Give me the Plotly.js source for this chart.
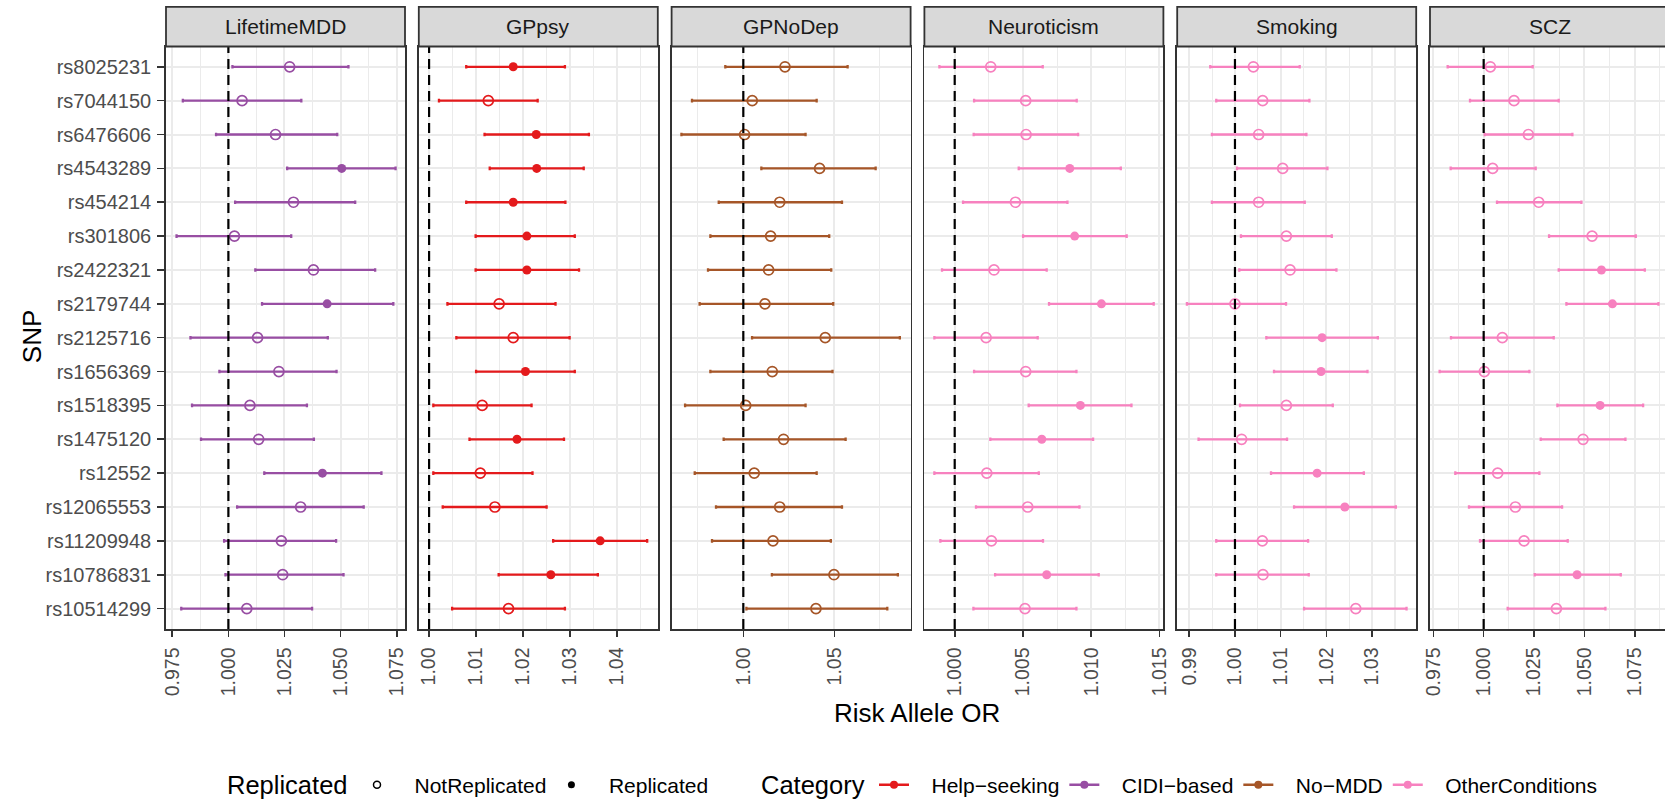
<!DOCTYPE html>
<html><head><meta charset="utf-8">
<script src="https://cdn.plot.ly/plotly-3.0.1.min.js"></script>
<style>html,body{margin:0;padding:0;overflow:hidden;background:#fff}#chart{width:1672px;height:806px}</style>
</head><body><div id="chart"></div>
<script>
// ---------------- data ----------------
const snps = ["rs8025231","rs7044150","rs6476606","rs4543289","rs454214","rs301806","rs2422321","rs2179744","rs2125716","rs1656369","rs1518395","rs1475120","rs12552","rs12065553","rs11209948","rs10786831","rs10514299"];
const panels = ["LifetimeMDD","GPpsy","GPNoDep","Neuroticism","Smoking","SCZ"];
const categories = ["Help\u2212seeking","CIDI\u2212based","No\u2212MDD","OtherConditions"];
const panelCategory = ["CIDI\u2212based","Help\u2212seeking","No\u2212MDD","OtherConditions","OtherConditions","OtherConditions"];
const replicatedLevels = ["NotReplicated","Replicated"];

const mdd_or = [1.0273,1.0061,1.0210,1.0505,1.0290,1.0027,1.0379,1.0440,1.0130,1.0225,1.0096,1.0135,1.0419,1.0322,1.0236,1.0242,1.0082];
const mdd_lo = [1.0018,0.9797,0.9945,1.0262,1.0030,0.9769,1.0120,1.0150,0.9831,0.9960,0.9838,0.9878,1.0160,1.0039,0.9981,0.9987,0.9790];
const mdd_hi = [1.0535,1.0325,1.0485,1.0745,1.0565,1.0280,1.0654,1.0735,1.0443,1.0482,1.0350,1.0381,1.0682,1.0603,1.0480,1.0513,1.0373];
const mdd_rep = [0,0,0,1,0,0,0,1,0,0,0,0,1,0,0,0,0];

const gp_or = [1.0179,1.0126,1.0228,1.0229,1.0179,1.0208,1.0208,1.0149,1.0179,1.0205,1.0113,1.0187,1.0109,1.0140,1.0364,1.0259,1.0169];
const gp_lo = [1.0079,1.0021,1.0118,1.0129,1.0079,1.0099,1.0099,1.0039,1.0058,1.0100,1.0009,1.0086,1.0009,1.0029,1.0264,1.0148,1.0049];
const gp_hi = [1.0289,1.0231,1.0340,1.0329,1.0290,1.0310,1.0319,1.0269,1.0299,1.0310,1.0218,1.0287,1.0220,1.0250,1.0464,1.0359,1.0289];
const gp_rep = [1,0,1,1,1,1,1,0,0,1,0,1,0,0,1,1,0];

const nodep_or = [1.0229,1.0049,1.0007,1.0419,1.0200,1.0150,1.0139,1.0119,1.0450,1.0159,1.0013,1.0221,1.0060,1.0200,1.0163,1.0498,1.0399];
const nodep_lo = [0.9901,0.9718,0.9660,1.0099,0.9865,0.9819,0.9806,0.9760,1.0048,0.9819,0.9680,0.9892,0.9733,0.9850,0.9828,1.0157,1.0017];
const nodep_hi = [1.0573,1.0403,1.0342,1.0727,1.0542,1.0472,1.0483,1.0494,1.0860,1.0490,1.0342,1.0562,1.0403,1.0542,1.0481,1.0849,1.0791];
const nodep_rep = [0,0,0,0,0,0,0,0,0,0,0,0,0,0,0,0,0];

const neuro_or = [1.00264,1.00520,1.00523,1.00843,1.00445,1.00879,1.00288,1.01075,1.00230,1.00520,1.00921,1.00638,1.00235,1.00535,1.00269,1.00674,1.00515];
const neuro_lo = [0.99888,1.00142,1.00139,1.00469,1.00061,1.00501,0.99907,1.00691,0.99851,1.00142,1.00542,1.00261,0.99851,1.00156,0.99895,1.00296,1.00137];
const neuro_hi = [1.00645,1.00894,1.00904,1.01217,1.00826,1.01260,1.00674,1.01458,1.00608,1.00892,1.01295,1.01014,1.00616,1.00914,1.00647,1.01055,1.00892];
const neuro_rep = [0,0,0,1,0,1,0,1,0,0,1,1,0,0,0,1,0];

const smk_or = [1.00402,1.00606,1.00518,1.01044,1.00518,1.01124,1.01205,1.00000,1.01905,1.01883,1.01124,1.00146,1.01796,1.02402,1.00599,1.00613,1.02642];
const smk_lo = [0.99460,0.99591,0.99496,1.00044,0.99496,1.00131,1.00095,0.98949,1.00686,1.00854,1.00110,0.99204,1.00788,1.01292,0.99591,0.99591,1.01511];
const smk_hi = [1.01416,1.01628,1.01562,1.02022,1.01526,1.02117,1.02219,1.01117,1.03124,1.02898,1.02139,1.01139,1.02818,1.03518,1.01599,1.01613,1.03752];
const smk_rep = [0,0,0,0,0,0,0,0,1,1,0,0,1,1,0,0,0];

const scz_or = [1.00331,1.01507,1.02219,1.00447,1.02733,1.05382,1.05846,1.06392,1.00927,1.00033,1.05780,1.04935,1.00696,1.01573,1.02004,1.04637,1.03610];
const scz_lo = [0.98212,0.99321,1.00050,0.98361,1.00662,1.03246,1.03726,1.04107,0.98377,0.97814,1.03660,1.02832,0.98592,0.99271,0.99818,1.02534,1.01192];
const scz_hi = [1.02434,1.03726,1.04405,1.02583,1.04852,1.07551,1.07999,1.08677,1.03478,1.02269,1.07916,1.07038,1.02766,1.03892,1.04173,1.06806,1.06044];
const scz_rep = [0,0,0,0,0,0,1,1,0,0,1,0,0,0,0,1,0];

// ---------------- styling / layout config ----------------
const W = 1672, H = 806;
const FONT = "Liberation Sans, Arial, Helvetica, sans-serif";
const catColors = {"Help\u2212seeking":"#E41A1C","CIDI\u2212based":"#984EA3","No\u2212MDD":"#A65628","OtherConditions":"#F781BF"};
const panelData = [
  [mdd_or, mdd_lo, mdd_hi, mdd_rep],
  [gp_or, gp_lo, gp_hi, gp_rep],
  [nodep_or, nodep_lo, nodep_hi, nodep_rep],
  [neuro_or, neuro_lo, neuro_hi, neuro_rep],
  [smk_or, smk_lo, smk_hi, smk_rep],
  [scz_or, scz_lo, scz_hi, scz_rep]
];
const axisCfg = [
  {range:[0.9722,1.0787], dtick:0.025, tick0:1, fmt:".3f"},
  {range:[0.99781,1.04866], dtick:0.01, tick0:1, fmt:".2f"},
  {range:[0.9606,1.0919], dtick:0.05, tick0:1, fmt:".2f"},
  {range:[0.99778,1.01529], dtick:0.005, tick0:1, fmt:".3f"},
  {range:[0.98737,1.03963], dtick:0.01, tick0:1, fmt:".2f"},
  {range:[0.97336,1.0920], dtick:0.025, tick0:1, fmt:".3f"}
];
const panelLeft = 166, panelW = 239, panelStep = 252.8;
const plotTop = 47, plotBottom = 636, stripTop = 7;
const yDom = [1 - plotBottom/H, 1 - plotTop/H];
const border = "#333333";
const legendY = 1 - 794/H;
const keyPad = "\u00a0\u00a0\u00a0";   // spacing between legend key and its label

const traces = [];
const layout = {
  width: W, height: H,
  margin: {l:0, r:0, t:0, b:0},
  paper_bgcolor: "#fff", plot_bgcolor: "#fff",
  font: {family: FONT, color: "#000"},
  showlegend: true,
  shapes: [], annotations: [],
  legend: {
    x: 357/W, xanchor: "left", y: legendY, yanchor: "middle",
    orientation: "h", bgcolor: "rgba(0,0,0,0)", borderwidth: 0,
    font: {size: 21, color: "#000", family: FONT}, itemwidth: 30, traceorder: "normal"
  },
  legend2: {
    x: 874/W, xanchor: "left", y: legendY, yanchor: "middle",
    orientation: "h", bgcolor: "rgba(0,0,0,0)", borderwidth: 0,
    font: {size: 21, color: "#000", family: FONT}, itemwidth: 30, traceorder: "normal"
  }
};

const ySorted = snps.slice().reverse();

panels.forEach((p, i) => {
  const sfx = i === 0 ? "" : String(i + 1);
  const [orv, lo, hi, rep] = panelData[i];
  const color = catColors[panelCategory[i]];
  const x0 = panelLeft + i*panelStep, x1 = x0 + panelW;
  const cfg = axisCfg[i];

  [0, 1].forEach(r => {
    const idx = snps.map((s, k) => k).filter(k => rep[k] === r);
    traces.push({
      type: "scatter", mode: "markers",
      x: idx.map(k => orv[k]), y: idx.map(k => snps[k]),
      xaxis: "x" + sfx, yaxis: "y" + sfx,
      showlegend: false, hoverinfo: "x+y",
      error_x: {type: "data", symmetric: false,
        array: idx.map(k => hi[k] - orv[k]), arrayminus: idx.map(k => orv[k] - lo[k]),
        color: color, thickness: 2.3, width: 1.8},
      marker: r === 1
        ? {symbol: "circle", size: 9, color: color, line: {width: 0}}
        : {symbol: "circle-open", size: 10, color: color, line: {width: 1.7, color: color}}
    });
  });

  layout["xaxis" + sfx] = {
    domain: [x0/W, x1/W], range: cfg.range, anchor: "y" + sfx,
    tickmode: "linear", tick0: cfg.tick0, dtick: cfg.dtick, tickformat: cfg.fmt,
    tickangle: -90, ticks: "outside", ticklen: 6, tickwidth: 1.6, tickcolor: border,
    ticklabelstandoff: 3,
    tickfont: {size: 19.5, color: "#4D4D4D", family: FONT},
    showgrid: true, gridcolor: "#EBEBEB", gridwidth: 2,
    minor: {dtick: cfg.dtick/2, tick0: cfg.tick0, showgrid: true, gridcolor: "#EBEBEB", gridwidth: 1.1, ticks: ""},
    showline: true, mirror: true, linecolor: border, linewidth: 1.8,
    zeroline: false, fixedrange: true
  };
  layout["yaxis" + sfx] = {
    domain: yDom, anchor: "x" + sfx, type: "category",
    categoryorder: "array", categoryarray: ySorted, range: [-0.6, snps.length - 0.4],
    ticks: i === 0 ? "outside" : "", ticklen: 7, tickwidth: 1.6, tickcolor: border,
    showticklabels: i === 0, ticklabelstandoff: 2,
    tickfont: {size: 20, color: "#4D4D4D", family: FONT},
    showgrid: true, gridcolor: "#EBEBEB", gridwidth: 2,
    showline: true, mirror: true, linecolor: border, linewidth: 1.8,
    zeroline: false, fixedrange: true
  };
  if (i > 0) layout["yaxis" + sfx].matches = "y";

  // reference line at OR = 1
  layout.shapes.push({type: "line", xref: "x" + sfx, yref: "y" + sfx + " domain",
    x0: 1, x1: 1, y0: 0, y1: 1, layer: "above",
    line: {color: "#000", width: 2.2, dash: "10px,6px"}});
  // facet strip
  layout.shapes.push({type: "rect", xref: "paper", yref: "paper",
    x0: x0/W, x1: x1/W, y0: 1 - plotTop/H, y1: 1 - stripTop/H,
    fillcolor: "#D9D9D9", line: {color: border, width: 1.8}, layer: "above"});
  layout.annotations.push({xref: "paper", yref: "paper", x: (x0 + x1)/2/W, y: 1 - (plotTop + stripTop)/2/H,
    text: p, showarrow: false, xanchor: "center", yanchor: "middle",
    font: {size: 21, color: "#1A1A1A", family: FONT}});
});

// axis titles
layout.annotations.push({xref: "paper", yref: "paper", x: 917/W, y: 1 - 721/H,
  text: "Risk Allele OR", showarrow: false, xanchor: "center", yanchor: "middle",
  font: {size: 26, color: "#000", family: FONT}});
layout.annotations.push({xref: "paper", yref: "paper", x: 32/W, y: 1 - 341/H,
  text: "SNP", showarrow: false, textangle: -90, xanchor: "center", yanchor: "middle",
  font: {size: 26, color: "#000", family: FONT}});
// legend titles
layout.annotations.push({xref: "paper", yref: "paper", x: 225/W, y: legendY,
  text: "Replicated", showarrow: false, xanchor: "left", yanchor: "middle",
  font: {size: 25.5, color: "#000", family: FONT}});
layout.annotations.push({xref: "paper", yref: "paper", x: 759/W, y: legendY,
  text: "Category", showarrow: false, xanchor: "left", yanchor: "middle",
  font: {size: 25.5, color: "#000", family: FONT}});

// legend entries
replicatedLevels.forEach((lv, r) => {
  traces.push({type: "scatter", mode: "markers", x: [null], y: [null], name: keyPad + lv,
    legend: "legend", showlegend: true, hoverinfo: "skip",
    marker: r === 1 ? {symbol: "circle", size: 7, color: "#000"}
                    : {symbol: "circle-open", size: 7, color: "#000", line: {width: 1.5, color: "#000"}}});
});
categories.forEach(c => {
  traces.push({type: "scatter", mode: "lines+markers", x: [null], y: [null], name: keyPad + c,
    legend: "legend2", showlegend: true, hoverinfo: "skip",
    line: {color: catColors[c], width: 2.5},
    marker: {symbol: "circle", size: 8, color: catColors[c]}});
});

Plotly.newPlot("chart", traces, layout, {displayModeBar: false, staticPlot: true});
</script>
</body></html>
